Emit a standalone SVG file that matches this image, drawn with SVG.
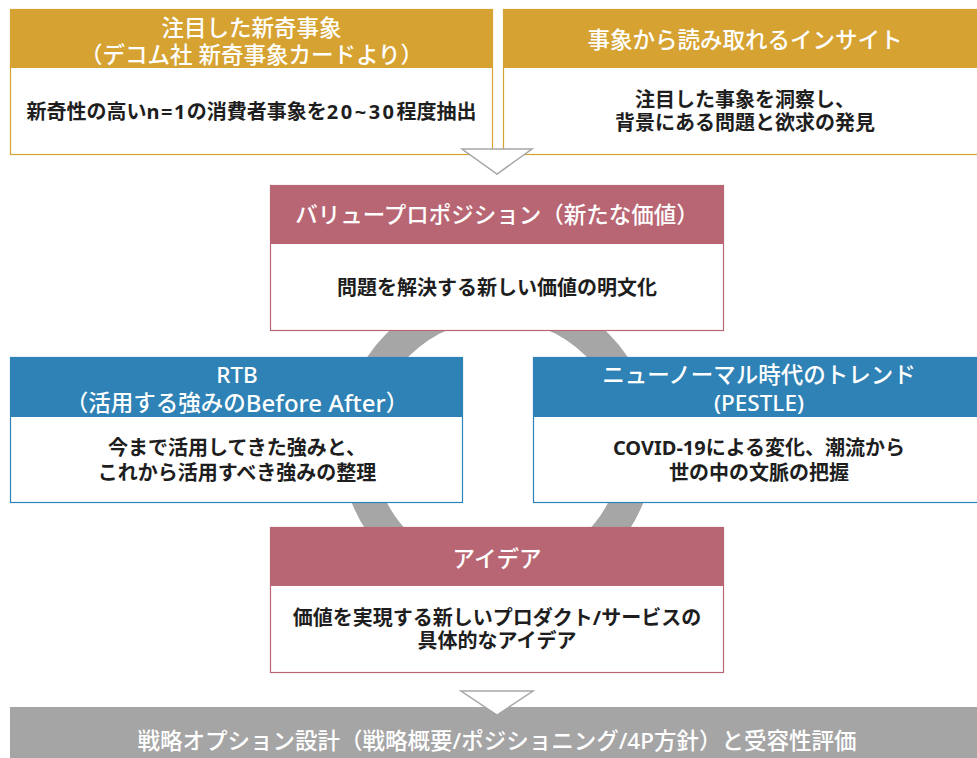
<svg xmlns="http://www.w3.org/2000/svg" width="977" height="758" viewBox="0 0 977 758">
<style>
.hd{font-family:"Noto Sans","Noto Sans CJK JP",sans-serif;font-size:22.5px;font-weight:500;fill:#ffffff;text-anchor:middle;dominant-baseline:central}
.bd{font-family:"Noto Sans","Noto Sans CJK JP",sans-serif;font-size:20px;font-weight:700;fill:#1e1e1e;text-anchor:middle;dominant-baseline:central}
.gold{fill:#d6a232}
.rose{fill:#b96674}
.blue{fill:#2e82b5}
.bgold{fill:#ffffff;stroke:#d6a232;stroke-width:1.2}
.brose{fill:#ffffff;stroke:#b96674;stroke-width:1.2}
.bblue{fill:#ffffff;stroke:#2e82b5;stroke-width:1.2}
.tri{fill:#ffffff;stroke:#a6a6a6;stroke-width:1.5}
</style>
<rect width="977" height="758" fill="#ffffff"/>
<g id="ring">
<circle cx="497.5" cy="444.5" r="141" fill="none" stroke="#a6a6a6" stroke-width="32"/>
</g>
<g id="node-novel">
<rect class="bgold" x="10.5" y="9.5" width="482" height="145"/>
<rect class="gold" x="10" y="9" width="483" height="59"/>
<text class="hd" x="251.5" y="27.5">注目した新奇事象</text>
<text class="hd" x="251.5" y="54">（デコム社 新奇事象カードより）</text>
<text class="bd" x="251.5" y="111">新奇性の高い<tspan letter-spacing="1.5">n=1</tspan>の消費者事象を<tspan letter-spacing="2.5">20~30</tspan>程度抽出</text>
</g>
<g id="node-insight">
<rect class="bgold" x="503.5" y="9.5" width="484" height="145"/>
<rect class="gold" x="503" y="9" width="485" height="59"/>
<text class="hd" x="745" y="39">事象から読み取れるインサイト</text>
<text class="bd" x="745" y="99">注目した事象を洞察し、</text>
<text class="bd" x="745" y="122">背景にある問題と欲求の発見</text>
</g>
<g id="node-value">
<rect class="brose" x="270.5" y="185.5" width="453" height="145"/>
<rect class="rose" x="270" y="185" width="454" height="59"/>
<text class="hd" x="497" y="214">バリュープロポジション（新たな価値）</text>
<text class="bd" x="497" y="287">問題を解決する新しい価値の明文化</text>
</g>
<g id="node-rtb">
<rect class="bblue" x="10.5" y="357.5" width="452" height="145"/>
<rect class="blue" x="10" y="357" width="453" height="60"/>
<text class="hd" x="237" y="374" font-size="24">RTB</text>
<text class="hd" x="237" y="402">（活用する強みの<tspan font-size="24">Before After</tspan>）</text>
<text class="bd" x="237" y="447">今まで活用してきた強みと、</text>
<text class="bd" x="237" y="472">これから活用すべき強みの整理</text>
</g>
<g id="node-pestle">
<rect class="bblue" x="533.5" y="357.5" width="454" height="145"/>
<rect class="blue" x="533" y="357" width="455" height="60"/>
<text class="hd" x="759" y="374">ニューノーマル時代のトレンド</text>
<text class="hd" x="759" y="402" font-size="24">(PESTLE)</text>
<text class="bd" x="759" y="447">COVID-19による変化、潮流から</text>
<text class="bd" x="759" y="472">世の中の文脈の把握</text>
</g>
<g id="node-idea">
<rect class="brose" x="270.5" y="527.5" width="453" height="145"/>
<rect class="rose" x="270" y="527" width="454" height="59"/>
<text class="hd" x="497" y="558">アイデア</text>
<text class="bd" x="497" y="617.5">価値を実現する新しいプロダクト/サービスの</text>
<text class="bd" x="497" y="640">具体的なアイデア</text>
</g>
<g id="node-strategy">
<rect x="10" y="707" width="967" height="51" fill="#a5a5a5"/>
<text class="hd" x="497" y="740">戦略オプション設計（戦略概要/ポジショニング/4P方針）と受容性評価</text>
</g>
<g id="connectors">
<polygon class="tri" points="462,149 532,149 497,174"/>
<polygon class="tri" points="461,691 533,691 497,715"/>
</g>
</svg>
